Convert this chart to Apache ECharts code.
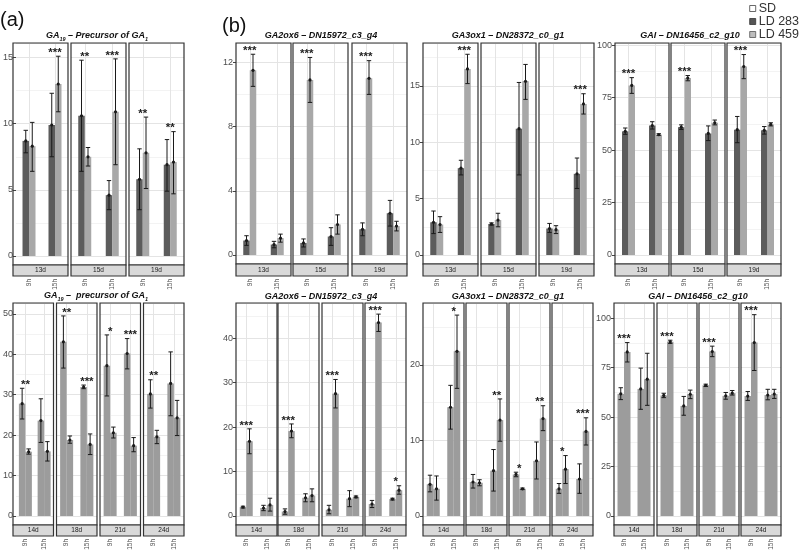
<!DOCTYPE html>
<html>
<head>
<meta charset="utf-8">
<script src="https://cdn.jsdelivr.net/npm/echarts@6/dist/echarts.min.js"></script>
<style>html,body{margin:0;background:#fff}#box{width:800px;height:553px}</style>
</head>
<body>
<div id="box"></div>
<script>
const hours = ['9h', '15h'];

// (a) GA19 top row
const ga19aDays = ['13d', '15d', '19d'];
const ga19aLD283 = [[8.7, 9.9], [10.6, 4.6], [5.8, 6.9]];
const ga19aLD283Err = [[[7.8, 9.5], [7.5, 12.3]], [[6.4, 14.8], [3.5, 5.7]], [[3.5, 8.1], [4.9, 8.8]]];
const ga19aLD459 = [[8.3, 13.0], [7.5, 10.9], [7.8, 7.1]];
const ga19aLD459Err = [[[6.4, 10.1], [10.9, 15.1]], [[6.8, 8.2], [6.9, 14.9]], [[5.1, 10.5], [4.7, 9.4]]];
const ga19aStars = [['', '***'], ['**', '***'], ['**', '**']];

// (a) GA19 bottom row
const ga19bDays = ['14d', '18d', '21d', '24d'];
const ga19bLD283 = [[27.8, 23.6], [43.1, 31.9], [37.2, 40.2], [30.2, 32.8]];
const ga19bLD283Err = [[[24, 31.6], [18.2, 29]], [[36.6, 49.5], [31.5, 32.4]], [[29.7, 44.8], [36.4, 43.9]], [[26.7, 33.7], [24.8, 40.6]]];
const ga19bLD459 = [[15.9, 16.0], [18.8, 17.7], [20.6, 17.4], [19.6, 24.3]];
const ga19bLD459Err = [[[15.3, 16.6], [13.6, 18.4]], [[18, 19.8], [15.2, 20.3]], [[19.3, 22], [15.9, 19.4]], [[17.9, 21.2], [19.9, 28.6]]];
const ga19bStars = [['**', ''], ['**', '***'], ['*', '***'], ['**', '']];

// (b) GA2ox6 top row
const ga2aDays = ['13d', '15d', '19d'];
const ga2aLD283 = [[0.9, 0.65], [0.75, 1.15], [1.6, 2.6]];
const ga2aLD283Err = [[[0.6, 1.2], [0.45, 0.85]], [[0.5, 1.0], [0.6, 1.7]], [[1.2, 2.0], [1.8, 3.4]]];
const ga2aLD459 = [[11.5, 1.05], [10.9, 1.9], [11.0, 1.8]];
const ga2aLD459Err = [[[10.5, 12.5], [0.8, 1.3]], [[9.5, 12.3], [1.3, 2.5]], [[10.0, 12.1], [1.5, 2.1]]];
const ga2aStars = [['***', ''], ['***', ''], ['***', '']];

// (b) GA3ox1 top row
const ga3aDays = ['13d', '15d', '19d'];
const ga3aLD283 = [[2.9, 7.7], [2.75, 11.2], [2.35, 7.2]];
const ga3aLD283Err = [[[1.9, 3.9], [7.1, 8.4]], [[2.65, 2.85], [7.1, 15.3]], [[2.0, 2.8], [5.9, 8.6]]];
const ga3aLD459 = [[2.7, 16.5], [3.1, 15.4], [2.25, 13.4]];
const ga3aLD459Err = [[[2.0, 3.4], [15.2, 17.8]], [[2.5, 3.7], [13.8, 16.9]], [[1.9, 2.6], [12.5, 14.3]]];
const ga3aStars = [['', '***'], ['', ''], ['', '***']];

// (b) GAI top row
const gaiaDays = ['13d', '15d', '19d'];
const gaiaLD283 = [[58.9, 61.7], [60.9, 57.9], [59.7, 59.4]];
const gaiaLD283Err = [[[57.5, 60.5], [60, 63.5]], [[59.8, 62], [54.5, 61.5]], [[53.5, 66], [57.6, 61.2]]];
const gaiaLD459 = [[80.8, 57.3], [84.3, 63.0], [89.8, 62.2]];
const gaiaLD459Err = [[[77, 84.5], [57, 57.8]], [[83, 85.5], [62, 64.3]], [[84, 95.5], [61.5, 63]]];
const gaiaStars = [['***', ''], ['***', ''], ['***', '']];

// (b) GA2ox6 bottom row
const ga2bDays = ['14d', '18d', '21d', '24d'];
const ga2bLD283 = [[2.0, 1.8], [1.0, 4.1], [1.4, 3.9], [2.7, 3.8]];
const ga2bLD283Err = [[[1.8, 2.2], [1.2, 2.4]], [[0.4, 1.6], [3.2, 5.0]], [[0.5, 2.4], [2.1, 5.7]], [[1.9, 3.5], [3.6, 4.0]]];
const ga2bLD459 = [[16.8, 2.5], [19.1, 4.6], [27.5, 4.3], [43.5, 5.8]];
const ga2bLD459Err = [[[14, 19.6], [1.1, 4.0]], [[17.6, 20.7], [3.2, 6.1]], [[24.3, 30.7], [4.1, 4.5]], [[41.5, 45.4], [4.9, 6.8]]];
const ga2bStars = [['***', ''], ['***', ''], ['***', ''], ['***', '*']];

// (b) GA3ox1 bottom row
const ga3bDays = ['14d', '18d', '21d', '24d'];
const ga3bLD283 = [[4.2, 14.4], [4.5, 6.0], [5.5, 7.3], [3.6, 4.9]];
const ga3bLD283Err = [[[3.2, 5.4], [11.5, 17.3]], [[3.7, 5.5], [3.3, 8.8]], [[5.2, 5.8], [4.9, 9.8]], [[3.0, 4.3], [3.0, 6.9]]];
const ga3bLD459 = [[3.6, 21.8], [4.4, 12.7], [3.6, 12.9], [6.2, 11.2]];
const ga3bLD459Err = [[[2.1, 5.3], [16.9, 26.6]], [[4.0, 4.8], [9.9, 15.5]], [[3.5, 3.7], [11.3, 14.6]], [[4.3, 8.0], [9.4, 13.0]]];
const ga3bStars = [['', '*'], ['', '**'], ['*', '**'], ['*', '***']];

// (b) GAI bottom row
const gaibDays = ['14d', '18d', '21d', '24d'];
const gaibLD283 = [[61.7, 64.2], [60.9, 55.6], [66.0, 60.7], [60.6, 61.1]];
const gaibLD283Err = [[[58.8, 64.8], [53.9, 74.7]], [[59.8, 62], [50.9, 60.4]], [[65.4, 66.6], [59, 62.4]], [[58.4, 62.9], [58.7, 64]]];
const gaibLD459 = [[82.9, 69.1], [88.0, 61.5], [83.1, 62.1], [87.6, 61.6]];
const gaibLD459Err = [[[77.8, 87.6], [55.9, 82.2]], [[87.2, 88.8], [59.3, 63.6]], [[80.5, 85.8], [61.1, 63.4]], [[73.5, 101.7], [59.4, 64]]];
const gaibStars = [['***', ''], ['***', ''], ['***', ''], ['***', '']];

const titles = [
    '{b|GA}{s|19}{b| – Precursor of GA}{s|1}',
    '{b|GA}{s|19}{b| –  precursor of GA}{s|1}',
    '{b|GA2ox6 – DN15972_c3_g4}',
    '{b|GA3ox1 – DN28372_c0_g1}',
    '{b|GAI – DN16456_c2_g10}'
];

const dark = '#5c5c5c', light = '#a8a8a8', mid = '#9c9c9c';
const font = 'Liberation Sans';

const groups = [
    {days: ga19aDays, a: ga19aLD283, aErr: ga19aLD283Err, b: ga19aLD459, bErr: ga19aLD459Err, stars: ga19aStars,
     title: titles[0], tx: 97, ty: 37, lefts: [13, 71, 129], w: 55, top: 43, y0: 256, stripTop: 265, stripBot: 276, max: 16.1, interval: 5, colors: [dark, light]},
    {days: ga19bDays, a: ga19bLD283, aErr: ga19bLD283Err, b: ga19bLD459, bErr: ga19bLD459Err, stars: ga19bStars,
     title: titles[1], tx: 96, ty: 297, lefts: [13, 56.5, 100, 143.5], w: 40.5, top: 303, y0: 516, stripTop: 525, stripBot: 536, max: 52.7, interval: 10, colors: [mid, mid]},
    {days: ga2aDays, a: ga2aLD283, aErr: ga2aLD283Err, b: ga2aLD459, bErr: ga2aLD459Err, stars: ga2aStars,
     title: titles[2], tx: 321, ty: 36, lefts: [236, 293, 352], w: 55, top: 43, y0: 255, stripTop: 264, stripBot: 276, max: 13.2, interval: 4, colors: [dark, light]},
    {days: ga3aDays, a: ga3aLD283, aErr: ga3aLD283Err, b: ga3aLD459, bErr: ga3aLD459Err, stars: ga3aStars,
     title: titles[3], tx: 508, ty: 36, lefts: [423, 481, 539], w: 55, top: 43, y0: 255, stripTop: 264, stripBot: 276, max: 18.8, interval: 5, colors: [dark, light]},
    {days: gaiaDays, a: gaiaLD283, aErr: gaiaLD283Err, b: gaiaLD459, bErr: gaiaLD459Err, stars: gaiaStars,
     title: titles[4], tx: 690, ty: 36, lefts: [615, 671, 727], w: 54, top: 43, y0: 255, stripTop: 264, stripBot: 276, max: 101, interval: 25, colors: [dark, light]},
    {days: ga2bDays, a: ga2bLD283, aErr: ga2bLD283Err, b: ga2bLD459, bErr: ga2bLD459Err, stars: ga2bStars,
     title: titles[2], tx: 321, ty: 297, lefts: [236, 278, 322, 365], w: 41, top: 303, y0: 516, stripTop: 525, stripBot: 536, max: 47.9, interval: 10, colors: [mid, mid]},
    {days: ga3bDays, a: ga3bLD283, aErr: ga3bLD283Err, b: ga3bLD459, bErr: ga3bLD459Err, stars: ga3bStars,
     title: titles[3], tx: 508, ty: 297, lefts: [423, 466, 509, 552], w: 41, top: 303, y0: 516, stripTop: 525, stripBot: 536, max: 28.2, interval: 10, colors: [mid, mid]},
    {days: gaibDays, a: gaibLD283, aErr: gaibLD283Err, b: gaibLD459, bErr: gaibLD459Err, stars: gaibStars,
     title: titles[4], tx: 698, ty: 297, lefts: [614, 657, 699, 741], w: 40, top: 303, y0: 516, stripTop: 525, stripBot: 536, max: 107.6, interval: 25, colors: [mid, mid]}
];

const barW = 6.5;
const grid = [], xAxis = [], yAxis = [], series = [], graphic = [];

// empty series so the legend gets an "SD" entry
series.push({type: 'scatter', name: 'SD', data: [], itemStyle: {color: '#fff', borderColor: '#444', borderWidth: 1}});

function errRender(params, api) {
    const off = api.value(4) === 0 ? -barW / 2 : barW / 2;
    const pm = api.coord([api.value(0), api.value(1)]);
    const pl = api.coord([api.value(0), api.value(2)]);
    const ph = api.coord([api.value(0), api.value(3)]);
    const x = pm[0] + off;
    const st = {stroke: '#1a1a1a', lineWidth: 1};
    return {type: 'group', children: [
        {type: 'line', shape: {x1: x, y1: pl[1], x2: x, y2: ph[1]}, style: st},
        {type: 'line', shape: {x1: x - 2.2, y1: pl[1], x2: x + 2.2, y2: pl[1]}, style: st},
        {type: 'line', shape: {x1: x - 2.2, y1: ph[1], x2: x + 2.2, y2: ph[1]}, style: st},
        {type: 'circle', shape: {cx: x, cy: pm[1], r: 1.6}, style: {fill: '#1a1a1a'}}
    ]};
}

let k = 0;
groups.forEach(g => {
    graphic.push({type: 'text', x: g.tx, y: g.ty, z: 100, style: {
        text: g.title, align: 'center', verticalAlign: 'middle', fill: '#111',
        rich: {
            b: {fontFamily: font, fontSize: 9, fontWeight: 'bold', fontStyle: 'italic', lineHeight: 9.5, verticalAlign: 'top', fill: '#111'},
            s: {fontFamily: font, fontSize: 5.5, fontWeight: 'bold', fontStyle: 'italic', lineHeight: 11.5, verticalAlign: 'bottom', fill: '#111'}
        }}});
    g.days.forEach((day, p) => {
        const left = g.lefts[p];
        grid.push({left: left, top: g.top, width: g.w, height: g.y0 - g.top});
        xAxis.push({gridIndex: k, type: 'category', data: hours,
            axisLine: {show: false}, axisTick: {show: false},
            splitLine: {show: true, alignWithLabel: true, lineStyle: {color: '#e4e4e4', width: 1}},
            axisLabel: {rotate: 90, fontSize: 6.5, color: '#555', fontFamily: font, margin: g.stripBot + 3 - g.y0}});
        yAxis.push({gridIndex: k, type: 'value', min: 0, max: g.max, interval: g.interval,
            axisLine: {show: false},
            axisTick: {show: p === 0, length: 3, lineStyle: {color: '#444'}},
            axisLabel: {show: p === 0, showMaxLabel: false, fontSize: 9, color: '#4d4d4d', fontFamily: font, margin: 3},
            splitLine: {show: true, lineStyle: {color: '#e4e4e4', width: 1}},
            minorTick: {show: false, splitNumber: 2},
            minorSplitLine: {show: true, lineStyle: {color: '#f3f3f3', width: 1}}});

        series.push({type: 'bar', name: 'LD 283', xAxisIndex: k, yAxisIndex: k, data: g.a[p],
            barWidth: barW, barGap: '0%', itemStyle: {color: g.colors[0]}, silent: true});
        series.push({type: 'bar', name: 'LD 459', xAxisIndex: k, yAxisIndex: k, data: g.b[p],
            barWidth: barW, barGap: '0%', itemStyle: {color: g.colors[1]}, silent: true});

        const errData = [];
        hours.forEach((h, c) => {
            errData.push([c, g.a[p][c], g.aErr[p][c][0], g.aErr[p][c][1], 0]);
            errData.push([c, g.b[p][c], g.bErr[p][c][0], g.bErr[p][c][1], 1]);
        });
        series.push({type: 'custom', xAxisIndex: k, yAxisIndex: k, clip: false, silent: true, z: 4,
            data: errData, renderItem: errRender});

        const st = g.stars[p];
        series.push({type: 'custom', xAxisIndex: k, yAxisIndex: k, clip: false, silent: true, z: 5,
            data: hours.map((h, c) => [c, Math.max(g.aErr[p][c][1], g.bErr[p][c][1])]),
            renderItem: function (params, api) {
                const t = st[params.dataIndex];
                if (!t) return null;
                const pt = api.coord([api.value(0), api.value(1)]);
                return {type: 'text', x: pt[0], y: pt[1] - 3.5, style: {
                    text: t, align: 'center', verticalAlign: 'middle', textAlign: 'center', textVerticalAlign: 'middle',
                    fontSize: 11.5, fontWeight: 'bold', fontFamily: font, fill: '#222'}};
            }});

        // panel border and strip
        graphic.push({type: 'rect', z: 50, shape: {x: left, y: g.top, width: g.w, height: g.stripTop - g.top},
            style: {fill: 'none', stroke: '#333', lineWidth: 1.2}});
        graphic.push({type: 'rect', z: 50, shape: {x: left, y: g.stripTop, width: g.w, height: g.stripBot - g.stripTop},
            style: {fill: '#d9d9d9', stroke: '#333', lineWidth: 1.2}});
        graphic.push({type: 'text', z: 51, x: left + g.w / 2, y: (g.stripTop + g.stripBot) / 2,
            style: {text: day, align: 'center', verticalAlign: 'middle', fontSize: 6.5, fontFamily: font, fill: '#1a1a1a'}});
        k++;
    });
});

graphic.push({type: 'text', x: 0, y: 20, style: {text: '(a)', verticalAlign: 'middle', fontSize: 20, fontFamily: font, fill: '#111'}});
graphic.push({type: 'text', x: 222, y: 26, style: {text: '(b)', verticalAlign: 'middle', fontSize: 20, fontFamily: font, fill: '#111'}});

const chart = echarts.init(document.getElementById('box'));
chart.setOption({
    animation: false,
    backgroundColor: '#fff',
    legend: {
        orient: 'vertical', right: 1, top: 2, padding: 0, itemGap: 0, align: 'left',
        itemWidth: 6, itemHeight: 6, icon: 'rect', selectedMode: false,
        textStyle: {fontSize: 12.5, color: '#333', fontFamily: font, lineHeight: 13, padding: [0, 0, 0, -2]},
        data: [
            {name: 'SD', itemStyle: {color: '#fff', borderColor: '#444', borderWidth: 1}},
            {name: 'LD 283', itemStyle: {color: '#555', borderColor: '#333', borderWidth: 0.8}},
            {name: 'LD 459', itemStyle: {color: '#bdbdbd', borderColor: '#555', borderWidth: 0.8}}
        ]
    },
    grid: grid,
    xAxis: xAxis,
    yAxis: yAxis,
    series: series,
    graphic: graphic
});
</script>
</body>
</html>
